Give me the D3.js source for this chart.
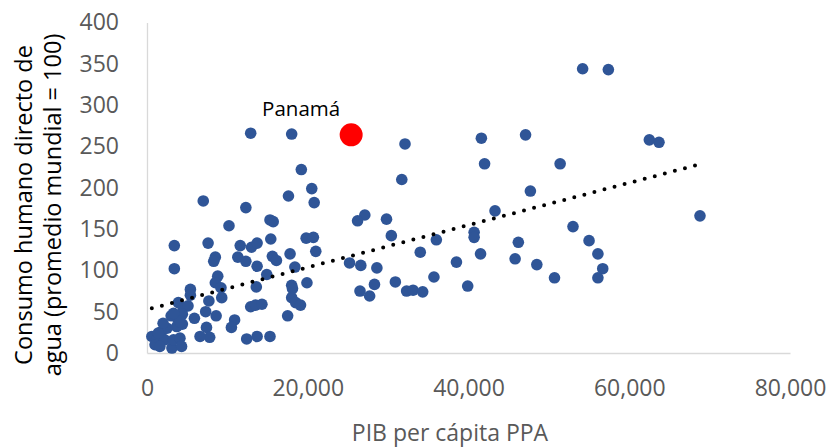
<!DOCTYPE html>
<meta charset="utf-8">
<style>
body { margin: 0; background: #fff; }
svg text { font-family: "Open Sans", sans-serif; }
.axis path { stroke: #d9d9d9; stroke-width: 1.3px; }
.axis text { fill: #595959; font-size: 23px; }
</style>
<body>
<svg width="833" height="447"></svg>

<script src="https://cdn.jsdelivr.net/npm/d3@7"></script>
<script>

// GDP per capita PPP (x) and water consumption index (y)
var gdp = [12900, 18000, 19200, 20500, 17600, 20800, 7000, 12300, 27100, 26200,
  15300, 15700, 10200, 3400, 7600, 11600, 13000, 13700, 15400, 19800,
  20700, 21000, 8500, 8300, 11300, 12300, 15600, 16100, 13700, 17800,
  18400, 3400, 25200, 26600, 28600, 8800, 8500, 14900, 13600, 18000,
  18100, 19900, 5400, 5400, 9200, 9300, 7700, 26500, 27700, 28300,
  3900, 4500, 5100, 3000, 3700, 4400, 4400, 5900, 7300, 8600,
  12900, 13500, 14300, 18000, 18500, 19100, 17500, 10900, 10500, 7400,
  7800, 6600, 12400, 13700, 15300, 600, 1200, 1000, 1800, 2200,
  1600, 3100, 3300, 4100, 4300, 3700, 2500, 2000, 1400, 4100,
  3300, 32100, 41600, 47100, 42000, 51400, 31700, 47700, 43300, 29800,
  53000, 30400, 36000, 40700, 40700, 46200, 34000, 55000, 56100, 56700,
  56100, 41500, 38500, 45800, 48500, 50700, 35700, 30900, 32300, 33100,
  34300, 39900, 54200, 57400, 62500, 63700, 68800];

var water = [266, 265, 222, 199, 190, 182, 184, 176, 167, 160,
  161, 159, 154, 130, 133, 130, 128, 133, 138, 139,
  140, 123, 116, 111, 116, 111, 117, 112, 105, 120,
  104, 102, 109, 106, 103, 93, 85, 95, 80, 82,
  78, 85, 77, 70, 79, 67, 63, 75, 69, 83,
  61, 55, 57, 45, 43, 47, 35, 42, 50, 45,
  56, 58, 59, 67, 61, 58, 45, 40, 31, 31,
  19, 20, 17, 20, 20, 20, 16, 10, 26, 16,
  8, 6, 16, 18, 8, 32, 30, 36, 24, 38,
  48, 253, 260, 264, 229, 229, 210, 196, 172, 162,
  153, 142, 137, 146, 140, 134, 122, 136, 120, 102,
  91, 120, 110, 114, 107, 91, 92, 86, 75, 76,
  74, 81, 344, 343, 258, 255, 166];

// highlighted country
var highlightName = ["Panamá"];
var highlightGdp = [25400];
var highlightWater = [264];

var xTicks = [0, 20000, 40000, 60000, 80000];
var yTicks = [0, 50, 100, 150, 200, 250, 300, 350, 400];

var svg = d3.select("svg");

var x = d3.scaleLinear().domain([0, 80000]).range([147, 790]);
var y = d3.scaleLinear().domain([0, 400]).range([353, 22.5]);

var points = gdp.map(function(g, i) { return { x: g, y: water[i] }; });

// axes, no tick marks, light grey lines
svg.append("g")
    .attr("class", "axis")
    .attr("transform", "translate(0,353)")
    .call(d3.axisBottom(x).tickValues(xTicks).tickSize(0).tickPadding(27)
      .tickFormat(d3.format(",")));

svg.append("g")
    .attr("class", "axis")
    .attr("transform", "translate(147,0)")
    .call(d3.axisLeft(y).tickValues(yTicks).tickSize(0).tickPadding(28));

// axis titles
svg.append("text")
    .attr("x", 450).attr("y", 441)
    .attr("text-anchor", "middle")
    .attr("fill", "#595959")
    .style("font-size", "23px")
    .text("PIB per cápita PPA");

var yTitle = svg.append("text")
    .attr("transform", "translate(0,205) rotate(-90)")
    .attr("text-anchor", "middle")
    .attr("fill", "#000")
    .style("font-size", "23.5px");
yTitle.append("tspan").attr("x", 0).attr("y", 32).text("Consumo humano directo de");
yTitle.append("tspan").attr("x", 0).attr("y", 61).text("agua (promedio mundial = 100)");

// scatter points
svg.append("g")
  .selectAll("circle")
  .data(points)
  .enter().append("circle")
    .attr("cx", function(d) { return x(d.x); })
    .attr("cy", function(d) { return y(d.y); })
    .attr("r", 5.8)
    .attr("fill", "#2f5597");

// linear trend (least squares over the blue series)
var mx = d3.mean(gdp), my = d3.mean(water);
var slope = d3.sum(gdp, function(g, i) { return (g - mx) * (water[i] - my); }) /
            d3.sum(gdp, function(g) { return (g - mx) * (g - mx); });
var icpt = my - slope * mx;
var xr = d3.extent(gdp);

svg.append("line")
    .attr("x1", x(xr[0])).attr("y1", y(icpt + slope * xr[0]))
    .attr("x2", x(xr[1])).attr("y2", y(icpt + slope * xr[1]))
    .attr("stroke", "#000")
    .attr("stroke-width", 4)
    .attr("stroke-linecap", "round")
    .attr("stroke-dasharray", "0,10.4");

// Panamá
svg.append("g")
  .selectAll("circle")
  .data(highlightGdp)
  .enter().append("circle")
    .attr("cx", function(d) { return x(d); })
    .attr("cy", function(d, i) { return y(highlightWater[i]); })
    .attr("r", 11.5)
    .attr("fill", "#ff0000");

svg.append("g")
  .selectAll("text")
  .data(highlightName)
  .enter().append("text")
    .attr("x", function(d, i) { return x(highlightGdp[i]) - 50; })
    .attr("y", function(d, i) { return y(highlightWater[i]) - 19; })
    .attr("text-anchor", "middle")
    .attr("fill", "#000")
    .style("font-size", "20.5px")
    .text(function(d) { return d; });

</script>
</body>
